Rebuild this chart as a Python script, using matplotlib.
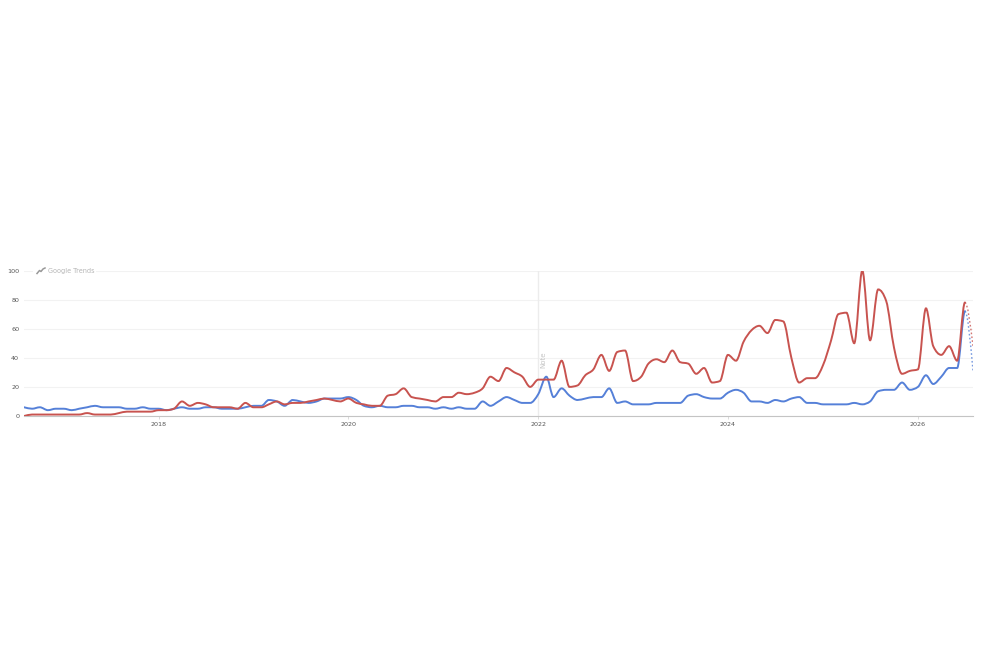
import matplotlib
matplotlib.use("Agg")
import matplotlib.pyplot as plt
import matplotlib.dates as mdates
from matplotlib.patches import PathPatch, Rectangle
from matplotlib.path import Path
import numpy as np
import pandas as pd

# monthly interest, Aug 2016 - Aug 2026 (last month is the partial, dotted one)
months = pd.date_range("2016-08-01", periods=121, freq="MS")

blue = [6, 5, 6, 4, 5, 5, 4, 5, 6, 7, 6, 6, 6, 5, 5, 6, 5, 5,
        4, 5, 6, 5, 5, 6, 6, 5, 5, 5, 6, 7, 7, 11, 10, 7, 11, 10, 9, 10, 12, 12, 12,
        13, 11, 7, 6, 7, 6, 6, 7, 7, 6, 6, 5, 6, 5, 6, 5, 5, 10, 7, 10, 13, 11, 9, 9,
        15, 27, 13, 19, 14, 11, 12, 13, 13, 19, 9, 10, 8, 8, 8, 9, 9,
        9, 9, 14, 15, 13, 12, 12, 16, 18, 16, 10, 10, 9, 11, 10, 12, 13, 9, 9, 8,
        8, 8, 8, 9, 8, 10, 17, 18, 18, 23, 18, 20, 28, 22, 27, 33, 33, 72, 31]
red = [0, 1, 1, 1, 1, 1, 1, 1, 2, 1, 1, 1, 2, 3, 3, 3, 3, 4,
       4, 5, 10, 7, 9, 8, 6, 6, 6, 5, 9, 6, 6, 8, 10, 8, 9, 9, 10, 11, 12, 11, 10,
       12, 9, 8, 7, 7, 14, 15, 19, 13, 12, 11, 10, 13, 13, 16, 15, 16, 19, 27, 24, 33, 30, 27, 20,
       25, 25, 25, 38, 20, 21, 28, 32, 42, 31, 44, 45, 24, 27, 36, 39, 37,
       45, 37, 36, 29, 33, 23, 24, 42, 38, 51, 59, 62, 57, 66, 65, 40, 23, 26, 26, 35,
       52, 70, 71, 50, 100, 52, 87, 79, 47, 29, 31, 32, 74, 48, 42, 48, 38, 78, 48]

y_ticks = [0, 20, 40, 60, 80, 100]
year_ticks = [2018, 2020, 2022, 2024, 2026]

BLUE = "#5580d8"
RED = "#c8534f"


def smooth_path(x, y):
    # monotone bezier (same idea as d3 monotoneX) so peaks do not overshoot
    x = np.asarray(x, dtype=float)
    y = np.asarray(y, dtype=float)
    h = np.diff(x)
    s = np.diff(y) / h
    m = np.zeros(len(x))
    for i in range(1, len(x) - 1):
        p = (s[i - 1] * h[i] + s[i] * h[i - 1]) / (h[i - 1] + h[i])
        m[i] = (np.sign(s[i - 1]) + np.sign(s[i])) * min(abs(s[i - 1]), abs(s[i]), 0.5 * abs(p))
    m[0] = s[0]
    m[-1] = 1.5 * s[-1]
    verts = [(x[0], y[0])]
    codes = [Path.MOVETO]
    for i in range(len(x) - 1):
        d = h[i] / 3
        verts += [(x[i] + d, y[i] + m[i] * d), (x[i + 1] - d, y[i + 1] - m[i + 1] * d), (x[i + 1], y[i + 1])]
        codes += [Path.CURVE4] * 3
    return verts, codes


def draw_series(ax, vals, color, z):
    x = mdates.date2num(months)
    verts, codes = smooth_path(x, vals)
    solid = Path(verts[:-3], codes[:-3])
    dotted = Path(verts[-4:], [Path.MOVETO] + codes[-3:])
    ax.add_patch(PathPatch(solid, fc="none", ec=color, lw=1.4, zorder=z, capstyle="round"))
    ax.add_patch(PathPatch(dotted, fc="none", ec=color, lw=1.0, ls=(0, (1.2, 1.6)), alpha=0.8, zorder=z))


fig = plt.figure(figsize=(9.9, 6.6), dpi=100)
ax = fig.add_axes([24 / 990, (660 - 416) / 660, (973 - 24) / 990, 145.5 / 660])

draw_series(ax, blue, BLUE, 3)
draw_series(ax, red, RED, 4)

ax.set_xlim(months[0], months[-1])
ax.set_ylim(0, 100)
ax.set_yticks(y_ticks)
ax.set_xticks([pd.Timestamp(f"{yr}-01-01") for yr in year_ticks])
ax.set_xticklabels([str(yr) for yr in year_ticks])
ax.tick_params(axis="y", length=0, labelsize=4.6, labelcolor="#555555", pad=3.5)
ax.tick_params(axis="x", length=2, width=0.5, color="#cccccc", labelsize=4.6, labelcolor="#555555", pad=2)
ax.grid(axis="y", color="#f2f2f2", lw=0.8)
ax.set_axisbelow(True)
for side in ["top", "left", "right"]:
    ax.spines[side].set_visible(False)
ax.spines["bottom"].set_color("#c4c4c4")
ax.spines["bottom"].set_linewidth(0.8)

# annotation line at 2022
note_x = pd.Timestamp("2022-01-01")
ax.axvline(note_x, color="#ececec", lw=1, zorder=1)
ax.annotate("Note", xy=(note_x, 0), xytext=(3.6, 34.5), textcoords="offset points", xycoords=("data", "axes fraction"),
            rotation=90, fontsize=5, color="#c4c4c4", ha="center", va="bottom", zorder=2)

# Google Trends mark top left, on top of the 100 gridline
ax.add_artist(Rectangle((33 / 990, 1 - 276 / 660), 63 / 990, 12 / 660, transform=fig.transFigure,
                        fc="white", ec="none", zorder=2.5))
fig.add_artist(plt.Line2D(np.array([37, 39.5, 41, 43, 45]) / 990,
                          1 - np.array([273.5, 270.5, 271.5, 269, 268]) / 660,
                          color="#999999", lw=1.1, solid_joinstyle="round", zorder=5))
fig.text(48.5 / 990, 1 - 270.5 / 660, "Google Trends", fontsize=4.7, color="#b5b5b5", va="center", ha="left",
         zorder=5)

fig.savefig("out.png", dpi=100)
